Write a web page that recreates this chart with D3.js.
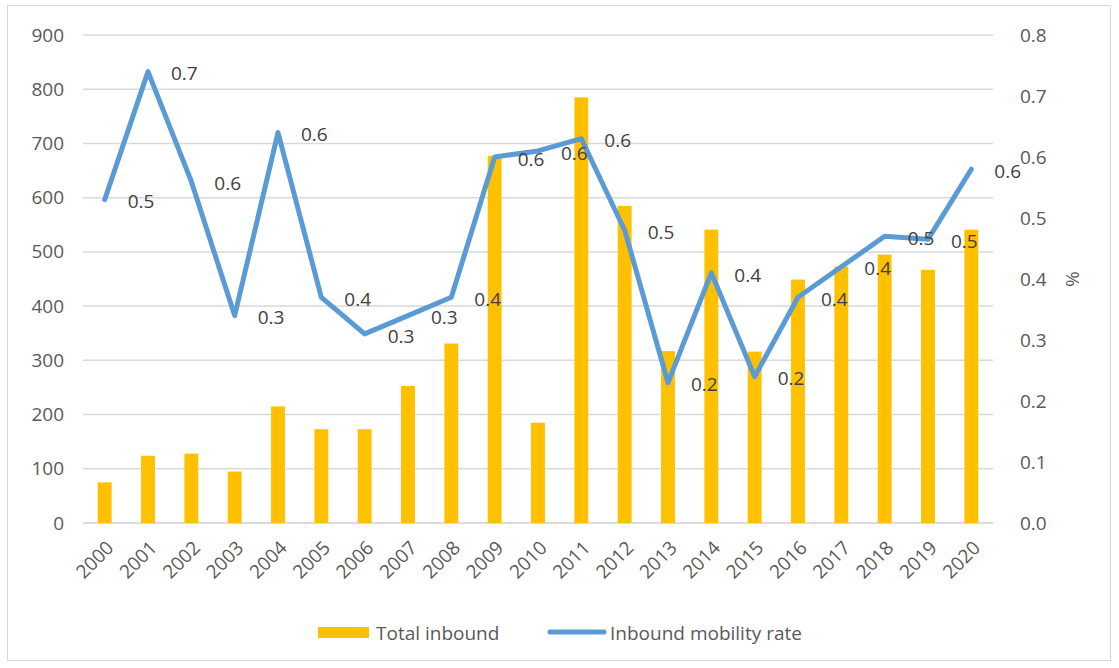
<!DOCTYPE html>
<html>
<head>
<meta charset="utf-8">
<script src="https://cdn.jsdelivr.net/npm/d3@7"></script>
<style>
  body { margin: 0; background: #fff; }
  text { font-family: "Open Sans", sans-serif; }
</style>
</head>
<body>
<div id="chart"></div>
<script>
const years = ['2000', '2001', '2002', '2003', '2004', '2005', '2006', '2007', '2008', '2009', '2010',
    '2011', '2012', '2013', '2014', '2015', '2016', '2017', '2018', '2019', '2020'];
const totalInbound = [75, 124, 128, 95, 215, 173, 173, 253, 331, 677, 185,
    785, 585, 317, 541, 316, 449, 473, 495, 467, 541];
const mobilityRate = [0.53, 0.74, 0.56, 0.34, 0.64, 0.37, 0.31, 0.34, 0.37, 0.60, 0.61,
    0.63, 0.48, 0.23, 0.41, 0.24, 0.37, 0.42, 0.47, 0.465, 0.58];
const leftTicks = [0, 100, 200, 300, 400, 500, 600, 700, 800, 900];
const rightTicks = [0, 0.1, 0.2, 0.3, 0.4, 0.5, 0.6, 0.7, 0.8];

const width = 1119;
const height = 668;
const margin = { top: 35, right: 126, bottom: 145, left: 83 };

const svg = d3.select('#chart')
    .append('svg')
    .attr('width', width)
    .attr('height', height);

// outer chart border
svg.append('rect')
    .attr('x', 7.5).attr('y', 5.5)
    .attr('width', 1103).attr('height', 655)
    .attr('fill', 'none')
    .attr('stroke', '#d9d9d9');

const x = d3.scaleBand()
    .domain(years)
    .range([margin.left, width - margin.right])
    .paddingInner(0.68)
    .paddingOuter(0.34);

const y = d3.scaleLinear()
    .domain([0, 900])
    .range([height - margin.bottom, margin.top]);

const y2 = d3.scaleLinear()
    .domain([0, 0.8])
    .range([height - margin.bottom, margin.top]);

// gridlines
svg.append('g')
    .selectAll('line')
    .data(leftTicks)
    .join('line')
    .attr('x1', margin.left)
    .attr('x2', width - margin.right)
    .attr('y1', d => y(d))
    .attr('y2', d => y(d))
    .attr('stroke', '#d9d9d9')
    .attr('stroke-width', 1.5);

function yAxis(g) {
    g.attr('transform', `translate(${margin.left - 16}, 0)`)
        .call(d3.axisLeft(y).tickValues(leftTicks).tickSize(0))
        .call(g => g.select('.domain').remove())
        .selectAll('text')
        .attr('font-size', '19px')
        .attr('fill', '#595959');
}

function y2Axis(g) {
    g.attr('transform', `translate(${width - margin.right + 24}, 0)`)
        .call(d3.axisRight(y2).tickValues(rightTicks).tickFormat(d3.format('.1f')).tickSize(0))
        .call(g => g.select('.domain').remove())
        .selectAll('text')
        .attr('font-size', '19px')
        .attr('fill', '#595959');
}

function xAxis(g) {
    g.attr('transform', `translate(0, ${height - margin.bottom})`)
        .call(d3.axisBottom(x).tickSize(0))
        .call(g => g.select('.domain').remove())
        .selectAll('text')
        .attr('font-size', '19px')
        .attr('fill', '#595959')
        .attr('text-anchor', 'end')
        .attr('dy', null)
        .attr('transform', 'translate(8, 24) rotate(-45)');
}

svg.append('g').call(yAxis);
svg.append('g').call(y2Axis);
svg.append('g').call(xAxis);

// axis baseline
svg.append('line')
    .attr('x1', margin.left)
    .attr('x2', width - margin.right)
    .attr('y1', y(0))
    .attr('y2', y(0))
    .attr('stroke', '#d9d9d9')
    .attr('stroke-width', 1.5);

// bars
svg.append('g')
    .attr('fill', '#FFC000')
    .selectAll('rect')
    .data(totalInbound)
    .join('rect')
    .attr('x', (d, i) => x(years[i]))
    .attr('y', d => y(d))
    .attr('width', x.bandwidth())
    .attr('height', d => y(0) - y(d));

// line
const line = d3.line()
    .x((d, i) => x(years[i]) + x.bandwidth() / 2)
    .y(d => y2(d));

svg.append('path')
    .datum(mobilityRate)
    .attr('d', line)
    .attr('fill', 'none')
    .attr('stroke', '#5B9BD5')
    .attr('stroke-width', 5)
    .attr('stroke-linejoin', 'round')
    .attr('stroke-linecap', 'round');

// data labels
svg.append('g')
    .selectAll('text')
    .data(mobilityRate)
    .join('text')
    .attr('x', (d, i) => x(years[i]) + x.bandwidth() / 2 + 23)
    .attr('y', d => y2(d) + 2)
    .attr('dy', '0.35em')
    .attr('font-size', '19px')
    .attr('fill', '#404040')
    .text(d => d3.format('.1f')(d));

// right axis title
svg.append('text')
    .attr('transform', `translate(1066, ${(y(0) + y(900)) / 2}) rotate(90)`)
    .attr('text-anchor', 'middle')
    .attr('font-size', '19px')
    .attr('fill', '#595959')
    .text('%');

// legend
const legend = svg.append('g');
legend.append('rect')
    .attr('x', 318).attr('y', 627)
    .attr('width', 51).attr('height', 11)
    .attr('fill', '#FFC000');
legend.append('text')
    .attr('x', 376).attr('y', 633)
    .attr('dy', '0.35em')
    .attr('font-size', '19px')
    .attr('fill', '#595959')
    .text('Total inbound');
legend.append('line')
    .attr('x1', 550).attr('x2', 604)
    .attr('y1', 632).attr('y2', 632)
    .attr('stroke', '#5B9BD5')
    .attr('stroke-width', 5)
    .attr('stroke-linecap', 'round');
legend.append('text')
    .attr('x', 610).attr('y', 633)
    .attr('dy', '0.35em')
    .attr('font-size', '19px')
    .attr('fill', '#595959')
    .text('Inbound mobility rate');
</script>
</body>
</html>
